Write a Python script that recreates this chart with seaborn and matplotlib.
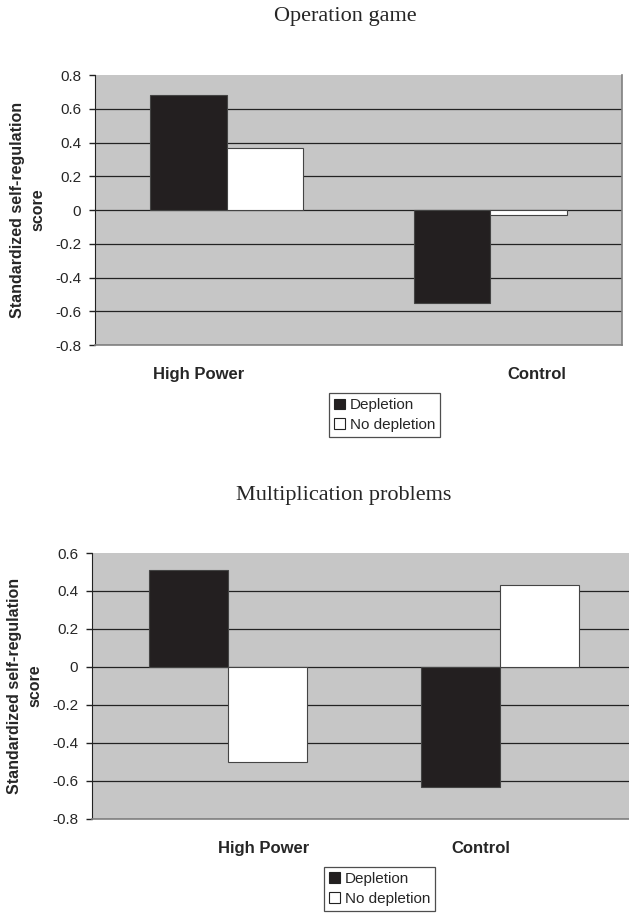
import pandas as pd
import matplotlib
matplotlib.use('Agg')
import matplotlib.pyplot as plt
import seaborn as sns

# data
conditions = ['High Power', 'Control']
depletion_levels = ['Depletion', 'No depletion']
operation_depletion = [0.68, -0.55]
operation_no_depletion = [0.37, -0.03]
multiplication_depletion = [0.51, -0.63]
multiplication_no_depletion = [-0.50, 0.43]

operation_ticks = [0.8, 0.6, 0.4, 0.2, 0, -0.2, -0.4, -0.6, -0.8]
multiplication_ticks = [0.6, 0.4, 0.2, 0, -0.2, -0.4, -0.6, -0.8]

sns.set_style('white')
plt.rcParams['font.family'] = ['Liberation Sans', 'DejaVu Sans']

BG = '#c6c6c6'
BAR_COLORS = ['#231f20', '#ffffff']


def make_df(dep, nodep):
    rows = []
    for cond, d, n in zip(conditions, dep, nodep):
        rows.append({'condition': cond, 'group': depletion_levels[0], 'score': d})
        rows.append({'condition': cond, 'group': depletion_levels[1], 'score': n})
    return pd.DataFrame(rows)


def draw_panel(ax, df, ticks, label_pos, legend_anchor):
    sns.barplot(data=df, x='condition', y='score', hue='group',
                order=conditions, hue_order=depletion_levels,
                palette=BAR_COLORS, width=0.58, errorbar=None,
                edgecolor='#444444', linewidth=0.8, saturation=1, ax=ax)
    ax.set_facecolor(BG)
    ax.set_xlim(-0.5, 1.5)
    ax.set_ylim(min(ticks), max(ticks))
    ax.set_yticks(ticks)
    ax.set_yticklabels([f'{t:g}' for t in ticks], fontsize=11)
    ax.set_xticks(label_pos)
    ax.set_xticklabels(conditions, fontsize=12, fontweight='bold')
    ax.tick_params(axis='x', length=0, pad=16)
    ax.tick_params(axis='y', length=4, width=1, color='#222222', pad=6, left=True)
    ax.set_xlabel('')
    ax.set_ylabel('Standardized self-regulation\nscore', fontsize=11.5,
                  fontweight='bold', linespacing=1.45)
    ax.yaxis.label.set(ha='center', va='center')

    # horizontal gridlines, none on the top edge
    ax.set_axisbelow(True)
    ax.grid(axis='y', color='#222222', linewidth=0.9)
    ax.grid(axis='x', visible=False)
    top = max(ticks)
    for tick in ax.yaxis.get_major_ticks():
        if abs(tick.get_loc() - top) < 1e-9:
            tick.gridline.set_visible(False)

    ax.spines['top'].set_visible(False)
    ax.spines['left'].set_color('#222222')
    for s in ['right', 'bottom']:
        ax.spines[s].set_color('#808080')
        ax.spines[s].set_linewidth(1.2)

    leg = ax.legend(loc='upper left', bbox_to_anchor=legend_anchor,
                    borderaxespad=0, fontsize=11, frameon=True, fancybox=False,
                    handlelength=0.7, handleheight=0.7, handletextpad=0.3,
                    labelspacing=0.35, borderpad=0.35)
    leg.get_frame().set_edgecolor('#222222')
    leg.get_frame().set_linewidth(0.9)
    leg.get_frame().set_facecolor('white')
    for h in leg.legend_handles:
        h.set_edgecolor('#222222')


fig = plt.figure(figsize=(6.29, 9.13), dpi=100)
fig.patch.set_facecolor('white')

ax1 = fig.add_axes([0.1510, 0.6221, 0.8378, 0.2957])
draw_panel(ax1, make_df(operation_depletion, operation_no_depletion),
           operation_ticks, [-0.105, 1.177], (0.444, -0.178))
ax1.yaxis.set_label_coords(-0.128, 0.5)

ax2 = fig.add_axes([0.1463, 0.1030, 0.8649, 0.2913])
draw_panel(ax2, make_df(multiplication_depletion, multiplication_no_depletion),
           multiplication_ticks, [0.132, 0.930], (0.4265, -0.180))
ax2.yaxis.set_label_coords(-0.123, 0.5)

fig.text(345 / 629, 1 - 17 / 913, 'Operation game', ha='center', va='center',
         fontsize=16, family=['Liberation Serif', 'DejaVu Serif'])
fig.text(344 / 629, 1 - 495 / 913, 'Multiplication problems', ha='center', va='center',
         fontsize=16, family=['Liberation Serif', 'DejaVu Serif'])

fig.savefig('out.png', dpi=100)
